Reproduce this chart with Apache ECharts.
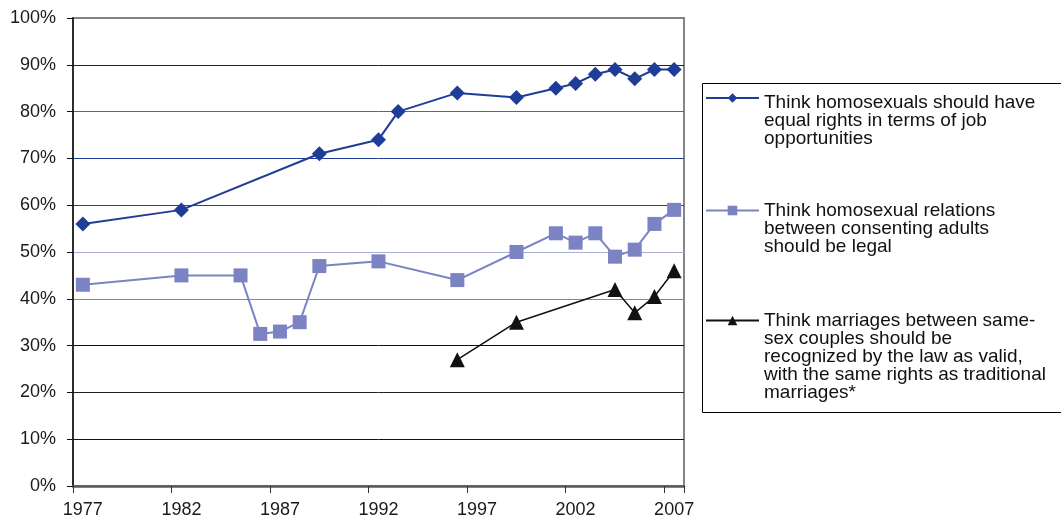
<!DOCTYPE html>
<html><head><meta charset="utf-8">
<script src="https://cdn.jsdelivr.net/npm/echarts@6/dist/echarts.min.js"></script>
<style>html,body{margin:0;padding:0;background:#fff}#c{width:1061px;height:523px}</style>
</head><body><div id="c"></div>
<script>
const categories = ['1977','1978','1979','1980','1981','1982','1983','1984','1985','1986','1987','1988','1989','1990','1991','1992','1993','1994','1995','1996','1997','1998','1999','2000','2001','2002','2003','2004','2005','2006','2007'];

const jobYears  = ['1977','1982','1989','1992','1993','1996','1999','2001','2002','2003','2004','2005','2006','2007'];
const jobValues = [56, 59, 71, 74, 80, 84, 83, 85, 86, 88, 89, 87, 89, 89];

const legalYears  = ['1977','1982','1985','1986','1987','1988','1989','1992','1996','1999','2001','2002','2003','2004','2005','2006','2007'];
const legalValues = [43, 45, 45, 32.5, 33, 35, 47, 48, 44, 50, 54, 52, 54, 49, 50.5, 56, 59];

const marriageYears  = ['1996','1999','2004','2005','2006','2007'];
const marriageValues = [27, 35, 42, 37, 40.5, 46];

const seriesNames = [
  'Think homosexuals should have\nequal rights in terms of job\nopportunities',
  'Think homosexual relations\nbetween consenting adults\nshould be legal',
  'Think marriages between same-\nsex couples should be\nrecognized by the law as valid,\nwith the same rights as traditional\nmarriages*'
];

const colors = ['#1F3D96', '#7B83C2', '#111111'];
const FONT = "'Liberation Sans', Arial, sans-serif";
const LH = 18;
const legendCenters = [98, 210, 320];
const textDrop = [10, 0, 0];   // extra spacer (px) above first legend text

function pairs(xs, vs) { return xs.map((x, i) => [x, vs[i]]); }

const legends = seriesNames.map((name, i) => {
  const n = name.split('\n').length;
  const g = textDrop[i];
  return {
    data: [name],
    orient: 'vertical',
    left: 705,
    top: legendCenters[i] - (g + (2 * n - 1) * LH) / 2,
    padding: 0,
    itemWidth: 53,
    itemHeight: 12,
    selectedMode: false,
    formatter: function (nm) { return (g ? '{g| }\n' : '') + '\n'.repeat(n - 1) + nm; },
    textStyle: {fontFamily: FONT, fontSize: 19, lineHeight: LH, color: '#111',
      rich: {g: {lineHeight: g || 1, fontSize: 1}}}
  };
});

const chart = echarts.init(document.getElementById('c'), null, {renderer: 'canvas'});
chart.setOption({
  animation: false,
  color: colors,
  grid: {left: 73, top: 18, right: 377, bottom: 37, show: true, borderColor: '#858585', borderWidth: 2, backgroundColor: 'transparent'},
  legend: legends,
  graphic: [{
    type: 'rect', silent: true, z: -1,
    shape: {x: 702.5, y: 83.5, width: 420, height: 329},
    style: {fill: '#fff', stroke: '#000', lineWidth: 1}
  }],
  xAxis: {
    type: 'category',
    data: categories,
    boundaryGap: true,
    axisLine: {lineStyle: {color: '#5a5a5a', width: 2.5}},
    axisTick: {show: true, interval: 4, length: 7, lineStyle: {color: '#333', width: 1}},
    axisLabel: {interval: 4, margin: 15, fontFamily: FONT, fontSize: 18, color: '#1a1a1a'},
    splitLine: {show: false}
  },
  yAxis: {
    type: 'value',
    min: 0, max: 100, interval: 10,
    axisLine: {show: true, lineStyle: {color: '#111', width: 1.5}},
    axisTick: {show: true, length: 6, lineStyle: {color: '#111', width: 1}},
    axisLabel: {formatter: '{value}%', margin: 17, fontFamily: FONT, fontSize: 18, color: '#1a1a1a'},
    splitLine: {show: true, lineStyle: {width: 1, color: ['#555', '#111', '#222', '#111', '#888', '#A9AEDB', '#444', '#1F3D96', '#666', '#222', '#808080']}}
  },
  series: [
    {name: seriesNames[0], type: 'line', data: pairs(jobYears, jobValues), symbol: 'diamond', symbolSize: 15,
     showAllSymbol: true, lineStyle: {color: colors[0], width: 2}, itemStyle: {color: colors[0]}},
    {name: seriesNames[1], type: 'line', data: pairs(legalYears, legalValues), symbol: 'rect', symbolSize: 14,
     showAllSymbol: true, lineStyle: {color: colors[1], width: 2}, itemStyle: {color: colors[1]}},
    {name: seriesNames[2], type: 'line', data: pairs(marriageYears, marriageValues), symbol: 'triangle', symbolSize: 15,
     showAllSymbol: true, lineStyle: {color: colors[2], width: 1.5}, itemStyle: {color: colors[2]}}
  ]
});
</script></body></html>
